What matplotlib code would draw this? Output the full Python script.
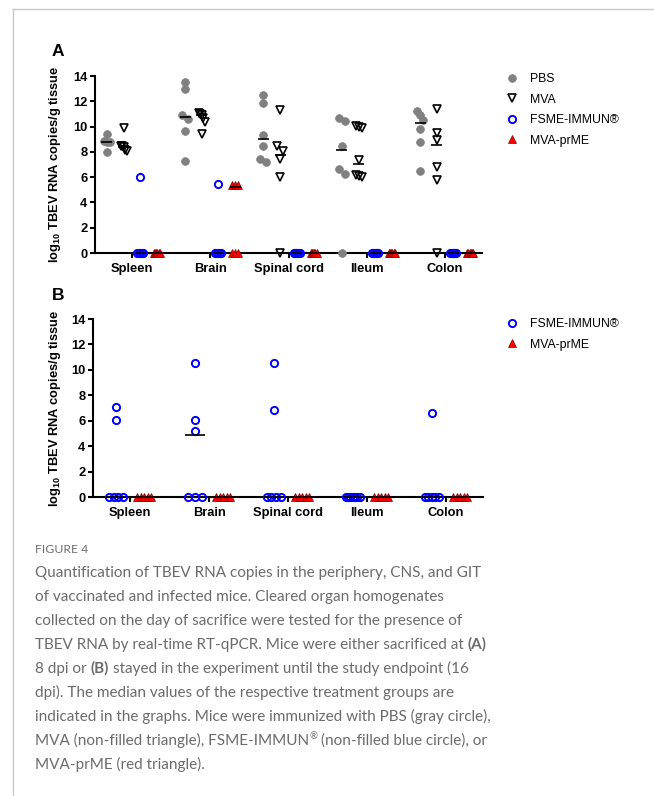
import matplotlib
matplotlib.use("Agg")
import matplotlib.pyplot as plt
import numpy as np
from matplotlib.lines import Line2D

plt.rcParams["font.family"] = ["Liberation Sans", "DejaVu Sans"]
plt.rcParams["mathtext.fontset"] = "custom"
plt.rcParams["mathtext.rm"] = "Liberation Sans:bold"
plt.rcParams["mathtext.it"] = "Liberation Sans:bold"
plt.rcParams["mathtext.bf"] = "Liberation Sans:bold"

categories = ["Spleen", "Brain", "Spinal cord", "Ileum", "Colon"]

# panel A (8 dpi), values per organ
pbs_a = [
    [9.4, 8.85, 8.8, 8.75, 7.98],
    [13.55, 13.0, 10.9, 10.6, 9.67, 7.26],
    [12.49, 11.83, 9.32, 8.45, 7.4, 7.16],
    [10.64, 10.46, 8.45, 6.63, 6.21, 0],
    [11.22, 10.91, 10.5, 9.8, 8.77, 6.5],
]
mva_a = [
    [9.88, 8.5, 8.45, 8.35, 8.13, 8.1],
    [11.1, 11.0, 10.95, 10.7, 10.4, 9.45],
    [11.3, 8.45, 8.08, 7.47, 6.02, 0],
    [10.05, 10.0, 9.9, 7.35, 6.2, 6.1, 6.0],
    [11.36, 9.46, 8.93, 6.81, 5.76, 0],
]
fsme_a = [
    [6.0, 0, 0, 0, 0, 0],
    [5.44, 0, 0, 0, 0, 0],
    [0, 0, 0, 0, 0, 0],
    [0, 0, 0, 0, 0, 0],
    [0, 0, 0, 0, 0, 0],
]
prme_a = [
    [0, 0, 0, 0, 0, 0],
    [5.38, 5.36, 5.34, 0, 0, 0],
    [0, 0, 0, 0, 0, 0],
    [0, 0, 0, 0, 0, 0],
    [0, 0, 0, 0, 0, 0],
]
pbs_a_med = [8.8, 10.75, 9.03, 8.14, 10.3]
mva_a_med = [8.35, 10.9, 7.74, 7.03, 8.53]
fsme_a_med = [0, 0, 0, 0, 0]
prme_a_med = [0, 5.2, 0, 0, 0]

# panel B (16 dpi)
fsme_b = [
    [7.09, 6.04, 0, 0, 0, 0],
    [10.53, 6.09, 5.2, 0, 0, 0],
    [10.53, 6.83, 0, 0, 0, 0],
    [0, 0, 0, 0, 0, 0, 0],
    [6.62, 0, 0, 0, 0, 0],
]
prme_b = [
    [0, 0, 0, 0, 0],
    [0, 0, 0, 0, 0],
    [0, 0, 0, 0, 0],
    [0, 0, 0, 0, 0],
    [0, 0, 0, 0, 0],
]
fsme_b_med = [0, 4.89, 0, 0, 0]
prme_b_med = [0, 0, 0, 0, 0]

W, H = 654, 796
fig = plt.figure(figsize=(W / 100, H / 100), dpi=100)


def px_box(l, t, r, b):
    return [l / W, 1 - b / H, (r - l) / W, (b - t) / H]


pbs_style = dict(marker="o", ms=5.6, mfc="#808080", mec="#808080", mew=0.5)
mva_style = dict(marker="v", ms=5.8, mfc="none", mec="black", mew=1.2)
fsme_style = dict(marker="o", ms=5.2, mfc="none", mec="#0000ff", mew=1.4)
prme_style = dict(marker="^", ms=5.8, mfc="#ff0000", mec="#8b0000", mew=0.5)


def spread(vals, tol, width):
    vals = np.asarray(vals, dtype=float)
    order = np.argsort(-vals, kind="stable")
    offs = np.zeros(len(vals))
    clusters, cur = [], [order[0]]
    for i in order[1:]:
        if vals[cur[-1]] - vals[i] < tol:
            cur.append(i)
        else:
            clusters.append(cur)
            cur = [i]
    clusters.append(cur)
    for c in clusters:
        if len(c) > 1:
            offs[c] = np.linspace(-width / 2, width / 2, len(c))
    return offs


def draw_series(ax, shift, data, meds, style, width, mhalf):
    for i, (vals, med) in enumerate(zip(data, meds)):
        x = i + shift + spread(vals, 0.5, width)
        ax.plot(x, vals, linestyle="none", clip_on=False, zorder=3, **style)
        ax.plot([i + shift - mhalf, i + shift + mhalf], [med, med], color="black",
                lw=1.2, solid_capstyle="butt", clip_on=False, zorder=4)


def style_axis(ax, label_x):
    for s in ["top", "right"]:
        ax.spines[s].set_visible(False)
    for s in ["left", "bottom"]:
        ax.spines[s].set_linewidth(1.5)
    ax.set_ylim(0, 14)
    ax.set_xlim(-0.47, 4.47)
    ax.set_yticks(range(0, 15, 2))
    ax.set_xticks(range(len(categories)))
    ax.set_xticklabels(categories)
    ax.tick_params(width=1.5, length=3.5, labelsize=9.3, pad=2)
    ax.tick_params(axis="x", pad=4)
    for lab in ax.get_xticklabels() + ax.get_yticklabels():
        lab.set_fontweight("bold")
    ax.set_ylabel(r"log$_{10}$ TBEV RNA copies/g tissue", fontsize=9.3, fontweight="bold")
    ax.yaxis.set_label_coords(label_x, 0.5)


ax_a = fig.add_axes(px_box(95, 76, 482, 253))
draw_series(ax_a, -0.32, pbs_a, pbs_a_med, pbs_style, 0.075, 0.07)
draw_series(ax_a, -0.105, mva_a, mva_a_med, mva_style, 0.075, 0.07)
draw_series(ax_a, 0.105, fsme_a, fsme_a_med, fsme_style, 0.075, 0.07)
draw_series(ax_a, 0.32, prme_a, prme_a_med, prme_style, 0.075, 0.07)
style_axis(ax_a, -0.083)

ax_b = fig.add_axes(px_box(93, 319, 483, 497))
draw_series(ax_b, -0.18, fsme_b, fsme_b_med, fsme_style, 0.175, 0.125)
draw_series(ax_b, 0.18, prme_b, prme_b_med, prme_style, 0.175, 0.125)
style_axis(ax_b, -0.077)

h = lambda st: Line2D([], [], linestyle="none", **st)
leg_kw = dict(loc="upper left", frameon=False, fontsize=8.8, handlelength=1.0,
              handletextpad=1.0, labelspacing=0.7, borderpad=0, borderaxespad=0)
fig.legend([h(pbs_style), h(mva_style), h(fsme_style), h(prme_style)],
           ["PBS", "MVA", "FSME-IMMUN®", "MVA-prME"],
           bbox_to_anchor=(506 / W, 1 - 73 / H), **leg_kw)
fig.legend([h(fsme_style), h(prme_style)], ["FSME-IMMUN®", "MVA-prME"],
           bbox_to_anchor=(506 / W, 1 - 318 / H), **leg_kw)

fig.text(52 / W, 1 - 52 / H, "A", fontsize=12.5, fontweight="bold", va="center")
fig.text(52 / W, 1 - 295 / H, "B", fontsize=12.5, fontweight="bold", va="center")

# page frame
fig.add_artist(Line2D([13 / W, 13 / W], [0, 1 - 9 / H], color="#c8c8c8", lw=1,
                      transform=fig.transFigure))
fig.add_artist(Line2D([13 / W, 1], [1 - 9 / H, 1 - 9 / H], color="#c8c8c8", lw=1,
                      transform=fig.transFigure))

# caption
cap_color = "#6b6b6b"
cap_font = "Lato"
renderer = fig.canvas.get_renderer()


def text_w(s, size, weight="normal"):
    t = fig.text(0, 0, s, fontsize=size, family=cap_font, fontweight=weight)
    w = t.get_window_extent(renderer).width
    t.remove()
    return w


caption = [
    [("Quantification of TBEV RNA copies in the periphery, CNS, and GIT", "normal", False)],
    [("of vaccinated and infected mice. Cleared organ homogenates", "normal", False)],
    [("collected on the day of sacrifice were tested for the presence of", "normal", False)],
    [("TBEV RNA by real-time RT-qPCR. Mice were either sacrificed at ", "normal", False),
     ("(A)", "bold", False)],
    [("8 dpi or ", "normal", False), ("(B)", "bold", False),
     (" stayed in the experiment until the study endpoint (16", "normal", False)],
    [("dpi). The median values of the respective treatment groups are", "normal", False)],
    [("indicated in the graphs. Mice were immunized with PBS (gray circle),", "normal", False)],
    [("MVA (non-filled triangle), FSME-IMMUN", "normal", False), ("®", "normal", True),
     (" (non-filled blue circle), or", "normal", False)],
    [("MVA-prME (red triangle).", "normal", False)],
]

cap_size = 10 * 447 / text_w(caption[0][0][0], 10)
space_w = text_w("a a", cap_size) - text_w("aa", cap_size)

fig.text(35 / W, 1 - 553 / H, "FIGURE 4", fontsize=cap_size * 0.8, family=cap_font,
         color="#707070", va="baseline")

for k, runs in enumerate(caption):
    base = 577 + 24 * k
    x = 35.0
    for txt, wt, sup in runs:
        if txt.startswith(" "):
            x += space_w
        size = cap_size * (0.62 if sup else 1)
        y = base - (cap_size * 0.55 if sup else 0)
        t = fig.text(x / W, 1 - y / H, txt.strip(), fontsize=size, family=cap_font,
                     fontweight=wt, color=cap_color, va="baseline")
        x += t.get_window_extent(renderer).width
        if txt.endswith(" "):
            x += space_w

fig.savefig("out.png", dpi=100)
